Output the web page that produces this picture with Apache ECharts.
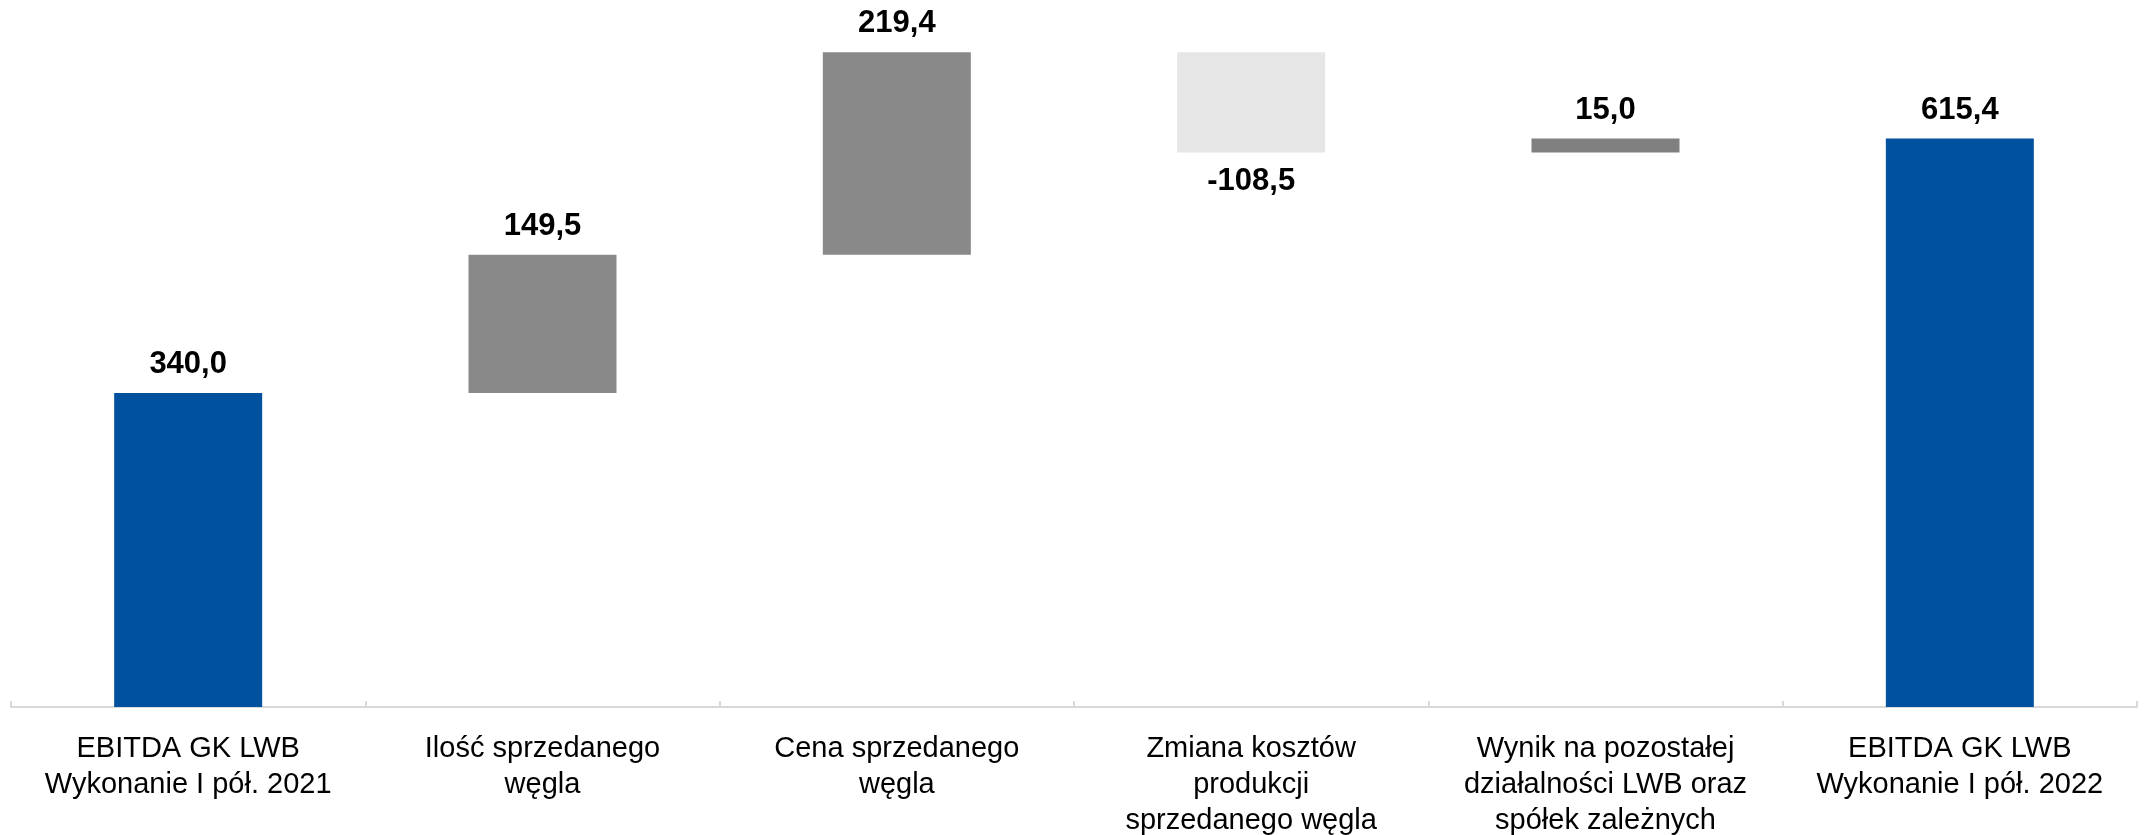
<!DOCTYPE html>
<html>
<head>
<meta charset="utf-8">
<script src="https://cdn.jsdelivr.net/npm/echarts@6/dist/echarts.min.js"></script>
<style>
  html, body { margin: 0; padding: 0; background: #fff; }
  #chart { width: 2144px; height: 835px; }
</style>
</head>
<body>
<div id="chart"></div>
<script>
// kategorie (oś X)
var categories = [
  'EBITDA GK LWB\nWykonanie I pół. 2021',
  'Ilość sprzedanego\nwęgla',
  'Cena sprzedanego\nwęgla',
  'Zmiana kosztów\nprodukcji\nsprzedanego węgla',
  'Wynik na pozostałej\ndziałalności LWB oraz\nspółek zależnych',
  'EBITDA GK LWB\nWykonanie I pół. 2022'
];
// wartości (pierwsza i ostatnia to sumy, reszta to zmiany)
var values = [340.0, 149.5, 219.4, -108.5, 15.0, 615.4];
var isTotal = [true, false, false, false, false, true];
var barColors = ['#00519E', '#898989', '#898989', '#E6E6E6', '#808080', '#00519E'];

// podstawa (niewidoczna) i wysokość słupka
var base = [];
var height = [];
var running = 0;
for (var i = 0; i < values.length; i++) {
  var v = values[i];
  if (isTotal[i]) {
    base.push(0);
    height.push(v);
    running = v;
  } else if (v >= 0) {
    base.push(running);
    height.push(v);
    running += v;
  } else {
    running += v;
    base.push(running);
    height.push(-v);
  }
}

function fmt(v) {
  return v.toFixed(1).replace('.', ',');
}

var chart = echarts.init(document.getElementById('chart'));
var option = {
  animation: false,
  grid: { left: 11, right: 7, top: 5, bottom: 128, containLabel: false, outerBoundsMode: 'none' },
  xAxis: {
    type: 'category',
    data: categories,
    axisLine: { lineStyle: { color: '#D9D9D9', width: 2 } },
    axisTick: { show: true, inside: true, length: 6, lineStyle: { color: '#D9D9D9', width: 2 } },
    axisLabel: {
      interval: 0,
      margin: 24,
      color: '#000',
      fontFamily: 'Liberation Sans, Arial, sans-serif',
      fontSize: 29,
      lineHeight: 36
    }
  },
  yAxis: {
    type: 'value',
    min: 0,
    max: 760,
    show: false,
    splitLine: { show: false }
  },
  series: [
    {
      name: 'base',
      type: 'bar',
      stack: 'w',
      barWidth: 148,
      itemStyle: { color: 'transparent' },
      silent: true,
      data: base
    },
    {
      name: 'wartość',
      type: 'bar',
      stack: 'w',
      barWidth: 148,
      data: height.map(function (h, i) {
        return {
          value: h,
          itemStyle: { color: barColors[i] },
          label: {
            show: true,
            position: values[i] < 0 ? 'bottom' : 'top',
            distance: values[i] < 0 ? 14 : 13,
            formatter: fmt(values[i]),
            color: '#000',
            fontFamily: 'Liberation Sans, Arial, sans-serif',
            fontWeight: 'bold',
            fontSize: 31
          }
        };
      })
    }
  ]
};
chart.setOption(option);
</script>
</body>
</html>
